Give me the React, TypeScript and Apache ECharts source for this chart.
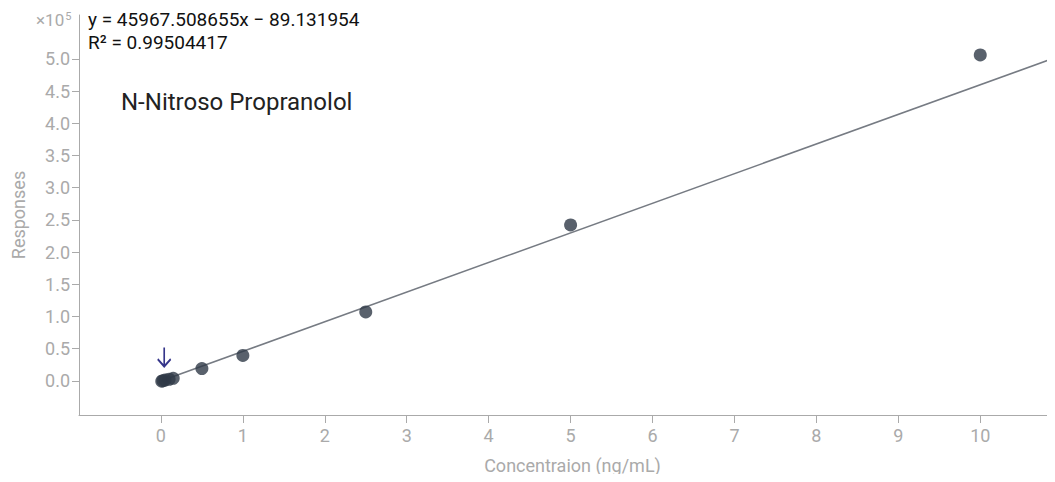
import React, { useEffect, useRef } from "react";
import * as echarts from "echarts";

const concentrations = [0.01, 0.025, 0.05, 0.1, 0.15, 0.5, 1, 2.5, 5, 10];
const responses = [-500, 200, 1200, 2500, 4000, 19000, 39500, 107000, 242000, 506000];
const fitLine = [
  [0, -89.131954],
  [10.84, 498197],
];
const xTicks = [0, 1, 2, 3, 4, 5, 6, 7, 8, 9, 10];
const yTicks = [0, 50000, 100000, 150000, 200000, 250000, 300000, 350000, 400000, 450000, 500000];
const equationText = "y = 45967.508655x \u2212 89.131954";
const r2Text = "R\u00b2 = 0.99504417";
const compoundName = "N-Nitroso Propranolol";
const arrowAt = [0.04, 37000];

export default function App() {
  const ref = useRef<HTMLDivElement>(null);
  useEffect(() => {
    const chart = echarts.init(ref.current!, undefined, { renderer: "svg" });
    const font = "Roboto";
    chart.setOption({
      animation: false,
      textStyle: { fontFamily: font },
      grid: { left: 79, top: 15, right: 1, bottom: 67 },
      xAxis: {
        type: "value",
        min: -1,
        max: 10.9,
        name: "Concentraion (ng/mL)",
        nameLocation: "middle",
        nameGap: 41,
        nameTextStyle: { color: "#aaaaaa", fontSize: 18, fontFamily: font, padding: [0, 0, 0, 12] },
        axisLine: { show: true, onZero: false, lineStyle: { color: "#aaaaaa", width: 1 } },
        axisTick: { show: true, customValues: xTicks, length: 8, lineStyle: { color: "#aaaaaa" } },
        axisLabel: { customValues: xTicks, color: "#aaaaaa", fontSize: 18, margin: 11, fontFamily: font },
        splitLine: { show: false },
      },
      yAxis: {
        type: "value",
        min: -53000,
        max: 568000,
        name: "Responses",
        nameLocation: "middle",
        nameGap: 52,
        nameTextStyle: { color: "#aaaaaa", fontSize: 18, fontFamily: font },
        axisLine: { show: true, onZero: false, lineStyle: { color: "#aaaaaa", width: 1 } },
        axisTick: { show: true, customValues: yTicks, length: 7, lineStyle: { color: "#aaaaaa" } },
        axisLabel: {
          customValues: yTicks,
          color: "#aaaaaa",
          fontSize: 18,
          margin: 9,
          fontFamily: font,
          formatter: (v: number) => (v / 100000).toFixed(1),
        },
        splitLine: { show: false },
      },
      series: [
        {
          type: "line",
          data: fitLine,
          symbol: "none",
          lineStyle: { color: "#767b83", width: 1.6 },
          silent: true,
          z: 1,
        },
        {
          type: "scatter",
          data: concentrations.map((c, i) => [c, responses[i]]),
          symbol: "circle",
          symbolSize: 13,
          itemStyle: { color: "#2f3a47" },
          z: 2,
          markPoint: {
            silent: true,
            data: [
              {
                coord: arrowAt,
                symbol: "path://M6,0 L6,18 M0,11 L6,18 L12,11",
                symbolSize: [13, 19],
                itemStyle: { color: "rgba(0,0,0,0)", borderColor: "#35358a", borderWidth: 2 },
                label: { show: false },
              },
            ],
          },
        },
      ],
      graphic: [
        {
          type: "text",
          left: 36,
          top: 11,
          style: {
            text: "{a|\u00d710}{b|5}",
            fill: "#aaaaaa",
            rich: {
              a: { fontSize: 17, fontFamily: font, fill: "#aaaaaa", verticalAlign: "bottom" },
              b: { fontSize: 11, fontFamily: font, fill: "#aaaaaa", verticalAlign: "top", padding: [0, 0, 6, 1] },
            },
          },
        },
        {
          type: "text",
          left: 88,
          top: 10,
          style: { text: equationText, fill: "#111111", fontSize: 19, fontFamily: font },
        },
        {
          type: "text",
          left: 88,
          top: 33,
          style: { text: r2Text, fill: "#111111", fontSize: 19, fontFamily: font },
        },
        {
          type: "text",
          left: 121,
          top: 90,
          style: { text: compoundName, fill: "#222222", fontSize: 24, fontFamily: font },
        },
      ],
    });
    return () => chart.dispose();
  }, []);
  return <div ref={ref} style={{ width: 1055, height: 482, margin: -8 }} />;
}
